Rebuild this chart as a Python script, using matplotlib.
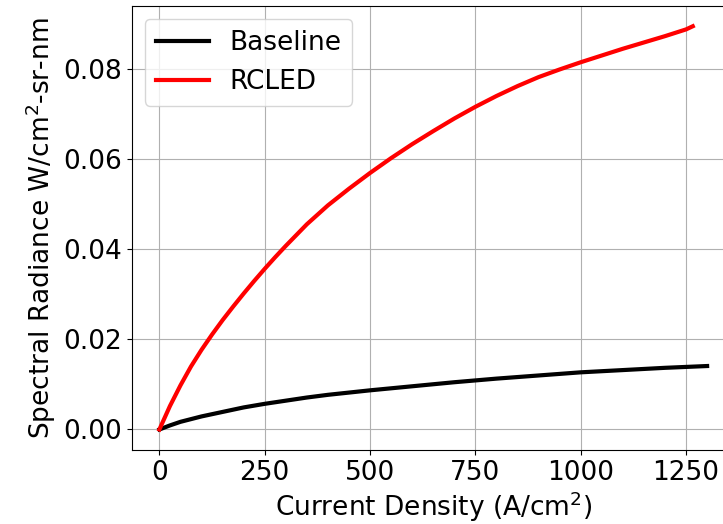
import matplotlib
matplotlib.use('Agg')
import matplotlib.pyplot as plt

# current density (A/cm^2) vs spectral radiance
baseline_j = [0, 25, 50, 75, 100, 150, 200, 250, 300, 350, 400, 450, 500, 600, 700, 800, 900,
              1000, 1100, 1200, 1300]
baseline_l = [0, 0.0009, 0.0017, 0.0023, 0.0029, 0.0039, 0.0049, 0.0057, 0.0064, 0.0071, 0.0077,
              0.0082, 0.0087, 0.0096, 0.0105, 0.0113, 0.0120, 0.0127, 0.0132, 0.0137, 0.0141]

rcled_j = [0, 25, 50, 75, 100, 125, 150, 175, 200, 225, 250, 275, 300, 350, 400, 450, 500, 550,
           600, 650, 700, 750, 800, 850, 900, 950, 1000, 1050, 1100, 1150, 1200, 1250, 1266]
rcled_l = [0, 0.0052, 0.0098, 0.0140, 0.0177, 0.0211, 0.0243, 0.0273, 0.0302, 0.0330, 0.0357,
           0.0383, 0.0408, 0.0456, 0.0498, 0.0535, 0.0570, 0.0603, 0.0634, 0.0663, 0.0691,
           0.0717, 0.0741, 0.0763, 0.0783, 0.0800, 0.0816, 0.0831, 0.0846, 0.0860, 0.0874,
           0.0889, 0.0896]

fs = 19
fig = plt.figure(figsize=(7.23, 5.24), dpi=100)
ax = fig.add_axes([132 / 723, 74 / 524, 602.5 / 723, 444 / 524])
ax.plot(baseline_j, baseline_l, color='black', lw=3, label='Baseline')
ax.plot(rcled_j, rcled_l, color='red', lw=3, label='RCLED')
ax.set_xlim(-65, 1365)
ax.set_ylim(-0.00456, 0.0941)
ax.set_xticks([0, 250, 500, 750, 1000, 1250])
ax.set_yticks([0, 0.02, 0.04, 0.06, 0.08])
ax.set_yticklabels(['0.00', '0.02', '0.04', '0.06', '0.08'])
ax.tick_params(labelsize=fs)
ax.grid(True)
ax.set_xlabel('Current Density (A/cm$^2$)', fontsize=fs, labelpad=2.5)
ax.set_ylabel('Spectral Radiance W/cm$^2$-sr-nm', fontsize=fs)
ax.legend(loc='upper left', fontsize=fs)
fig.savefig('out.png', dpi=100)
